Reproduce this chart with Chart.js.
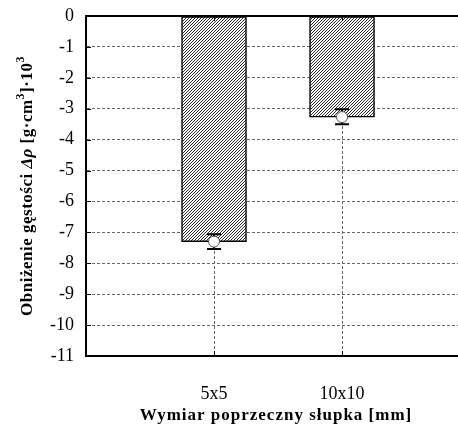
<!DOCTYPE html>
<html>
<head>
<meta charset="utf-8">
<script src="https://cdn.jsdelivr.net/npm/chart.js@4"></script>
<style>
  html, body { margin: 0; padding: 0; background: #fff; overflow: hidden; }
  #wrap { width: 458px; height: 428px; }
</style>
</head>
<body>
<div id="wrap"><canvas id="barChart"></canvas></div>
<script>
// data
const categories = ["5x5", "10x10"];
const xPos = [1, 2];
const density = [-7.3, -3.27];
const errTop = [-7.06, -3.02];
const errBottom = [-7.54, -3.5];
const yTicks = [0, -1, -2, -3, -4, -5, -6, -7, -8, -9, -10, -11];

const yTitle = [
  { t: "Obniżenie gęstości ", s: "bold" },
  { t: "Δρ", s: "italic bold" },
  { t: " [g·cm", s: "bold" },
  { t: "3", s: "bold", sup: true },
  { t: "]·10", s: "bold" },
  { t: "3", s: "bold", sup: true }
];
const xTitle = "Wymiar poprzeczny słupka [mm]";

// hatch fill
function hatch() {
  const c = document.createElement("canvas");
  c.width = 3; c.height = 3;
  const g = c.getContext("2d");
  g.fillStyle = "#fff";
  g.fillRect(0, 0, 3, 3);
  g.strokeStyle = "#111";
  g.lineWidth = 0.9;
  g.beginPath();
  g.moveTo(0, 3); g.lineTo(3, 0);
  g.moveTo(-1, 1); g.lineTo(1, -1);
  g.moveTo(2, 4); g.lineTo(4, 2);
  g.stroke();
  return g.createPattern(c, "repeat");
}

const serif = "'Liberation Serif', 'Times New Roman', serif";

// error bars, circles, frame, inner ticks and axis titles
const extras = {
  id: "extras",
  afterDatasetsDraw(chart) {
    const ctx = chart.ctx, x = chart.scales.x, y = chart.scales.y;
    const a = chart.chartArea;
    ctx.save();
    // top line at 0
    ctx.strokeStyle = "#000";
    ctx.lineWidth = 2;
    ctx.beginPath();
    ctx.moveTo(a.left, a.top); ctx.lineTo(a.right, a.top);
    ctx.stroke();
    // inner ticks
    ctx.lineWidth = 1;
    ctx.beginPath();
    yTicks.forEach(v => {
      const py = Math.round(y.getPixelForValue(v)) + 0.5;
      ctx.moveTo(a.left, py); ctx.lineTo(a.left + 5, py);
    });
    xPos.forEach(v => {
      const px = Math.round(x.getPixelForValue(v)) + 0.5;
      ctx.moveTo(px, a.bottom); ctx.lineTo(px, a.bottom - 5);
      ctx.moveTo(px, a.top); ctx.lineTo(px, a.top + 5);
    });
    ctx.stroke();
    // error bars
    xPos.forEach((v, i) => {
      const px = x.getPixelForValue(v);
      const t = y.getPixelForValue(errTop[i]);
      const b = y.getPixelForValue(errBottom[i]);
      ctx.strokeStyle = "#000";
      ctx.lineWidth = 2;
      ctx.beginPath();
      ctx.moveTo(px, t); ctx.lineTo(px, b);
      ctx.moveTo(px - 7, t); ctx.lineTo(px + 7, t);
      ctx.moveTo(px - 7, b); ctx.lineTo(px + 7, b);
      ctx.stroke();
      ctx.beginPath();
      ctx.arc(px, y.getPixelForValue(density[i]), 5.5, 0, Math.PI * 2);
      ctx.fillStyle = "#fff";
      ctx.fill();
      ctx.lineWidth = 1;
      ctx.strokeStyle = "#555";
      ctx.stroke();
    });
    // x title
    ctx.fillStyle = "#000";
    ctx.font = "bold 17px " + serif;
    ctx.letterSpacing = "1px";
    ctx.textAlign = "center";
    ctx.textBaseline = "alphabetic";
    ctx.fillText(xTitle, 276, 420);
    // y title, rotated, in pieces
    ctx.letterSpacing = "0.5px";
    ctx.textAlign = "left";
    ctx.translate(32, 186);
    ctx.rotate(-Math.PI / 2);
    let w = 0;
    yTitle.forEach(p => {
      ctx.font = p.s + " " + (p.sup ? 12 : 17) + "px " + serif;
      w += ctx.measureText(p.t).width;
    });
    let cx = -w / 2;
    yTitle.forEach(p => {
      ctx.font = p.s + " " + (p.sup ? 12 : 17) + "px " + serif;
      ctx.fillText(p.t, cx, p.sup ? -8 : 0);
      cx += ctx.measureText(p.t).width;
    });
    ctx.restore();
  }
};

new Chart("barChart", {
  type: "bar",
  data: {
    datasets: [{
      data: xPos.map((v, i) => ({ x: v, y: density[i] })),
      backgroundColor: hatch(),
      borderColor: "#000",
      borderWidth: 1.5,
      borderSkipped: false,
      barThickness: 65
    }]
  },
  plugins: [extras],
  options: {
    responsive: true,
    maintainAspectRatio: false,
    animation: false,
    layout: { padding: { top: 16, right: 0, left: 0, bottom: 0 } },
    plugins: { legend: { display: false }, tooltip: { enabled: false } },
    scales: {
      x: {
        type: "linear",
        offset: false,
        min: 0,
        max: 2.906,
        afterBuildTicks: s => { s.ticks = xPos.map(v => ({ value: v })); },
        afterFit: s => { s.height = 72; s.paddingLeft = 0; s.paddingRight = 0; },
        ticks: {
          callback: v => categories[xPos.indexOf(v)],
          font: { family: serif, size: 18 },
          color: "#000",
          padding: 27,
          maxRotation: 0
        },
        grid: { color: "#666", offset: false, drawTicks: false, lineWidth: 1 },
        border: { display: true, color: "#000", width: 2, dash: [3, 2] }
      },
      y: {
        min: -11,
        max: 0,
        afterBuildTicks: s => { s.ticks = yTicks.map(v => ({ value: v })); },
        afterFit: s => { s.width = 86; s.paddingTop = 0; s.paddingBottom = 0; },
        ticks: {
          font: { family: serif, size: 18 },
          color: "#000",
          padding: 12
        },
        grid: { color: "#666", drawTicks: false, lineWidth: 1 },
        border: { display: true, color: "#000", width: 2, dash: [3, 2] }
      }
    }
  }
});
</script>
</body>
</html>
